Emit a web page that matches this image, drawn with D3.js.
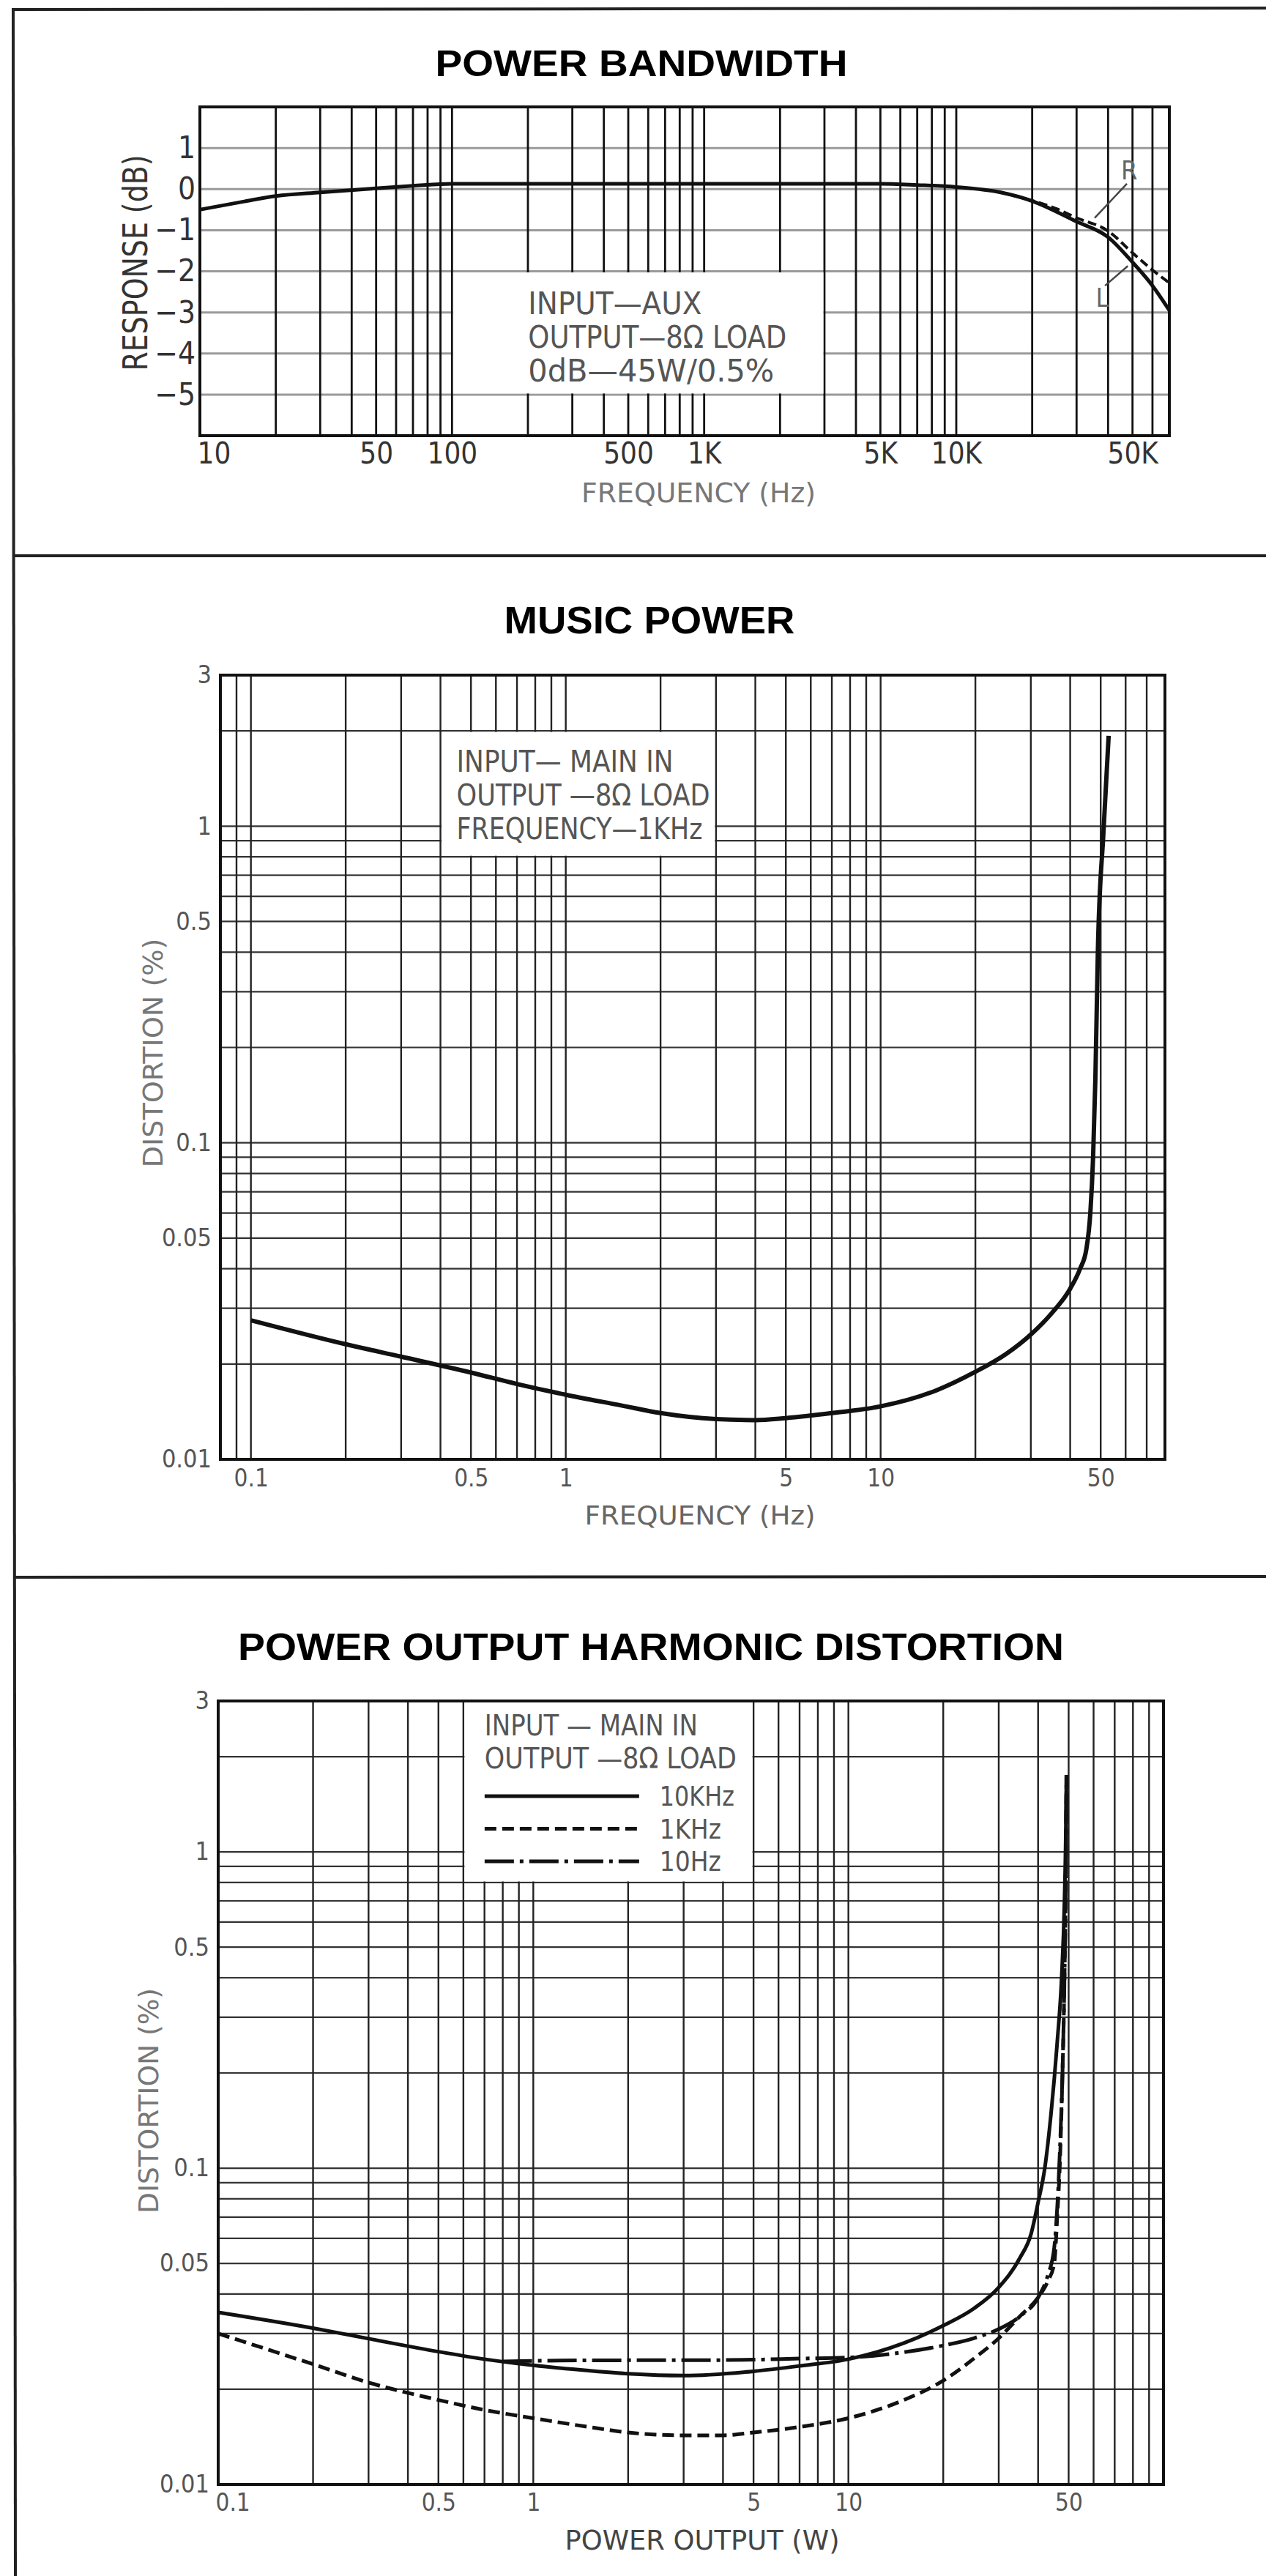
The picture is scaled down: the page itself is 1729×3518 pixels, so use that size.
<!DOCTYPE html>
<html><head><meta charset="utf-8">
<script src="https://cdn.jsdelivr.net/npm/d3@7"></script>
<style>
html,body{margin:0;padding:0;background:#fff;}
svg{display:block;}
text{font-family:"Liberation Sans Narrow","DejaVu Sans Condensed","Liberation Sans",sans-serif;}
.ttl{font-family:"Liberation Sans",Arial,sans-serif;font-weight:bold;}
</style></head><body>
<svg id="c" width="1729" height="3518"></svg>
<script>
// ================= DATA =================
// Chart 1 : POWER BANDWIDTH
const bwFreq = [10,15,20,30,50,70,100,200,500,1000,2000,5000,7000,10000,15000,20000,30000,40000,50000,60000,70000];
const bwL    = [-0.5,-0.3,-0.17,-0.08,0.02,0.08,0.13,0.13,0.13,0.13,0.13,0.13,0.1,0.05,-0.08,-0.29,-0.79,-1.17,-1.78,-2.35,-2.95];
const bwRFreq = [15000,20000,25000,30000,40000,50000,60000,70000];
const bwR     = [-0.08,-0.28,-0.48,-0.7,-1.02,-1.55,-1.97,-2.28];
const bwXTicks = [10,50,100,500,1000,5000,10000,50000];
const bwXTickLabels = ["10","50","100","500","1K","5K","10K","50K"];
const bwYTicks = [1,0,-1,-2,-3,-4,-5];
const bwYTickLabels = ["1","0","−1","−2","−3","−4","−5"];
const bwNote = ["INPUT—AUX","OUTPUT—8Ω LOAD","0dB—45W/0.5%"];
const bwNoteBox = [100,3000,-5,-2];
const bwRLabel = {text:"R", at:[48500,0.47], from:[35400,-0.70], to:[47500,0.13]};
const bwLLabel = {text:"L", at:[38000,-2.64], from:[47900,-1.87], to:[38900,-2.35]};

// Chart 2 : MUSIC POWER
const mpX = [0.1,0.2,0.3,0.5,0.7,1,1.5,2,3,4,5,7,10,15,20,25,30,35,40,43,45,46.4,47.3,48.1,49,51,53];
const mpY = [0.0275,0.0231,0.0211,0.0188,0.0173,0.016,0.0148,0.014,0.0134,0.0133,0.0135,0.014,0.0147,0.0165,0.0189,0.0215,0.0248,0.029,0.0346,0.04,0.046,0.061,0.09,0.16,0.41,0.95,1.93];
const mpXTicks = [0.1,0.5,1,5,10,50];
const mpXTickLabels = ["0.1","0.5","1","5","10","50"];
const distYTicks = [3,1,0.5,0.1,0.05,0.01];
const distYTickLabels = ["3","1","0.5","0.1","0.05","0.01"];
const mpNote = ["INPUT— MAIN IN","OUTPUT —8Ω LOAD","FREQUENCY—1KHz"];
const mpNoteBox = [0.4,3,0.8,2];

// Chart 3 : POWER OUTPUT HARMONIC DISTORTION
const hdX10k = [0.1,0.2,0.3,0.5,0.7,1,1.5,2,3,5,7,10,15,20,25,30,35,38,40,42,44,46,47.5,48.5,49,49.2];
const hdY10k = [0.035,0.0312,0.0289,0.0263,0.0249,0.0238,0.0229,0.0224,0.0221,0.0228,0.0237,0.0249,0.028,0.0318,0.036,0.042,0.052,0.062,0.078,0.1,0.15,0.25,0.4,0.7,1.2,1.75];
const hdX1k = [0.1,0.2,0.3,0.5,0.7,1,1.5,2,3,4,5,7,10,15,20,25,30,35,40,43,45,46,47,47.8,48.5,49,49.2];
const hdY1k = [0.030,0.024,0.021,0.0185,0.0172,0.0162,0.0152,0.0146,0.0143,0.0143,0.0146,0.0152,0.0162,0.0185,0.0213,0.025,0.029,0.034,0.039,0.044,0.05,0.07,0.11,0.2,0.4,0.9,1.75];
const hdX10 = [0.8,1,2,3,5,7,10,15,20,25,30,35,40,43,45,46,47,47.8,48.5,49,49.2];
const hdY10 = [0.0245,0.0246,0.0247,0.0247,0.0248,0.025,0.0252,0.0262,0.0275,0.029,0.031,0.034,0.039,0.046,0.056,0.075,0.12,0.2,0.4,0.9,1.75];
const hdXTicks = [0.1,0.5,1,5,10,50];
const hdXTickLabels = ["0.1","0.5","1","5","10","50"];
const hdNote = ["INPUT — MAIN IN","OUTPUT —8Ω LOAD"];
const hdLegend = ["10KHz","1KHz","10Hz"];
const hdNoteBox = [0.6,5,0.8,3];

// ================= HELPERS =================
const svg = d3.select("#c");
function logGrid(a,b){
  const out=[];
  for(let e=Math.floor(Math.log10(a))-1;e<=Math.ceil(Math.log10(b));e++){
    for(let k=1;k<=9;k++){const v=+(k*Math.pow(10,e)).toPrecision(6); if(v>=a*0.999&&v<=b*1.001) out.push(v);}
  }
  return out;
}
function grid(g,x,y,xv,yv,hs,vs){
  const [x0,x1]=x.range(), [y0,y1]=y.range();
  g.append("g").selectAll("line").data(yv).join("line")
    .attr("x1",x0).attr("x2",x1).attr("y1",d=>y(d)).attr("y2",d=>y(d))
    .attr("stroke",hs.c).attr("stroke-width",hs.w);
  g.append("g").selectAll("line").data(xv).join("line")
    .attr("y1",y0).attr("y2",y1).attr("x1",d=>x(d)).attr("x2",d=>x(d))
    .attr("stroke",vs.c).attr("stroke-width",vs.w);
}
function whiteBox(g,x,y,b){
  g.append("rect").attr("x",x(b[0])+1.5).attr("y",y(b[3])+1.5)
    .attr("width",x(b[1])-x(b[0])-3).attr("height",y(b[2])-y(b[3])-3).attr("fill","#fff");
}
function frame(g,x,y){
  const [x0,x1]=x.range(), [y0,y1]=y.range();
  g.append("rect").attr("x",x0).attr("y",y1).attr("width",x1-x0).attr("height",y0-y1)
    .attr("fill","none").attr("stroke","#111").attr("stroke-width",4);
}
function axes(g,x,y,xt,xl,yt,yl,o){
  const ax=g.append("g").attr("transform",`translate(0,${y.range()[0]})`)
    .call(d3.axisBottom(x).tickValues(xt).tickFormat((d,i)=>xl[i]).tickSize(0).tickPadding(o.xp));
  ax.select(".domain").remove();
  ax.selectAll("text").attr("font-size",o.xfs).attr("fill",o.col);
  if(o.firstStart) ax.select(".tick text").attr("text-anchor","start").attr("x",-4);
  const ay=g.append("g").attr("transform",`translate(${x.range()[0]},0)`)
    .call(d3.axisLeft(y).tickValues(yt).tickFormat((d,i)=>yl[i]).tickSize(0).tickPadding(o.yp));
  ay.select(".domain").remove();
  ay.selectAll("text").attr("font-size",o.yfs).attr("fill",o.col);
  ax.attr("font-family",null); ay.attr("font-family",null);
}
function txt(g,s,xx,yy,o){
  const t=g.append("text").attr("x",xx).attr("y",yy).text(s)
    .attr("font-size",o.fs).attr("fill",o.c||"#444").attr("text-anchor",o.a||"start");
  if(o.len) t.attr("textLength",o.len).attr("lengthAdjust","spacingAndGlyphs");
  if(o.cls) t.attr("class",o.cls);
  if(o.rot) t.attr("transform",`rotate(-90,${xx},${yy})`);
  return t;
}

// ================= PANEL BORDERS =================
const bord = svg.append("g").attr("stroke","#222").attr("stroke-width",4);
bord.append("line").attr("x1",16).attr("x2",1729).attr("y1",13).attr("y2",11);
bord.append("line").attr("x1",18).attr("x2",21).attr("y1",11).attr("y2",3518);
bord.append("line").attr("x1",18).attr("x2",1729).attr("y1",759).attr("y2",759);
bord.append("line").attr("x1",19).attr("x2",1729).attr("y1",2154).attr("y2",2153);

// ================= CHART 1 =================
{
  const g=svg.append("g");
  const x=d3.scaleLog().domain([10,70000]).range([273,1597]);
  const y=d3.scaleLinear().domain([-6,2]).range([595,146]);
  grid(g,x,y,logGrid(10,70000),d3.range(-6,3),{c:"#9a9a9a",w:3},{c:"#111",w:2.8});
  whiteBox(g,x,y,bwNoteBox);
  frame(g,x,y);
  const line=d3.line().x(d=>x(d[0])).y(d=>y(d[1])).curve(d3.curveMonotoneX);
  g.append("path").attr("d",line(d3.zip(bwRFreq,bwR))).attr("fill","none").attr("stroke","#111").attr("stroke-width",4).attr("stroke-dasharray","12,6");
  g.append("path").attr("d",line(d3.zip(bwFreq,bwL))).attr("fill","none").attr("stroke","#111").attr("stroke-width",5);
  [bwRLabel,bwLLabel].forEach(a=>{
    g.append("line").attr("x1",x(a.from[0])).attr("y1",y(a.from[1])).attr("x2",x(a.to[0])).attr("y2",y(a.to[1])).attr("stroke","#444").attr("stroke-width",2.5);
    txt(g,a.text,x(a.at[0]),y(a.at[1])+13,{fs:36,c:"#666",a:"middle"});
  });
  axes(g,x,y,bwXTicks,bwXTickLabels,bwYTicks,bwYTickLabels,{xp:10,yp:6,xfs:40,yfs:42,col:"#333",firstStart:true});
  bwNote.forEach((s,i)=>txt(g,s,x(bwNoteBox[0])+104,y(bwNoteBox[3])+58+i*46,{fs:42,c:"#555",len:[237,353,336][i]}));
  txt(g,"POWER BANDWIDTH",876,104,{fs:50,c:"#000",a:"middle",len:563,cls:"ttl"});
  txt(g,"FREQUENCY (Hz)",954,686,{fs:38,c:"#777",a:"middle",len:320});
  txt(g,"RESPONSE (dB)",201,359,{fs:46,c:"#333",a:"middle",len:295,rot:true});
}

// ================= CHART 2 =================
{
  const g=svg.append("g");
  const x=d3.scaleLog().domain([0.08,80]).range([301,1591]);
  const y=d3.scaleLog().domain([0.01,3]).range([1993,922]);
  grid(g,x,y,logGrid(0.08,80),logGrid(0.01,3),{c:"#333",w:2.2},{c:"#222",w:2.4});
  whiteBox(g,x,y,mpNoteBox);
  frame(g,x,y);
  const line=d3.line().x(d=>x(d[0])).y(d=>y(d[1])).curve(d3.curveMonotoneX);
  g.append("path").attr("d",line(d3.zip(mpX,mpY))).attr("fill","none").attr("stroke","#111").attr("stroke-width",6);
  axes(g,x,y,mpXTicks,mpXTickLabels,distYTicks,distYTickLabels,{xp:14,yp:12,xfs:33,yfs:34,col:"#555"});
  mpNote.forEach((s,i)=>txt(g,s,x(mpNoteBox[0])+22,y(mpNoteBox[3])+56+i*46,{fs:40,c:"#555",len:[296,346,336][i]}));
  txt(g,"MUSIC POWER",887,865,{fs:52,c:"#000",a:"middle",len:397,cls:"ttl"});
  txt(g,"FREQUENCY (Hz)",956,2082,{fs:36,c:"#666",a:"middle",len:315});
  txt(g,"DISTORTION (%)",222,1438,{fs:38,c:"#777",a:"middle",len:313,rot:true});
}

// ================= CHART 3 =================
{
  const g=svg.append("g");
  const x=d3.scaleLog().domain([0.1,100]).range([298,1589]);
  const y=d3.scaleLog().domain([0.01,3]).range([3393,2323]);
  grid(g,x,y,logGrid(0.1,100),logGrid(0.01,3),{c:"#333",w:2.2},{c:"#222",w:2.4});
  whiteBox(g,x,y,hdNoteBox);
  frame(g,x,y);
  const line=d3.line().x(d=>x(d[0])).y(d=>y(d[1])).curve(d3.curveMonotoneX);
  const styles=[{d:"",w:5},{d:"16,8",w:5},{d:"40,8,5,8",w:5}];
  const series=[d3.zip(hdX10k,hdY10k),d3.zip(hdX1k,hdY1k),d3.zip(hdX10,hdY10)];
  series.forEach((s,i)=>g.append("path").attr("d",line(s)).attr("fill","none").attr("stroke","#111")
    .attr("stroke-width",styles[i].w).attr("stroke-dasharray",styles[i].d||null));
  axes(g,x,y,hdXTicks,hdXTickLabels,distYTicks,distYTickLabels,{xp:13,yp:12,xfs:33,yfs:34,col:"#555",firstStart:true});
  const bx=x(hdNoteBox[0]), by=y(hdNoteBox[3]);
  hdNote.forEach((s,i)=>txt(g,s,bx+29,by+47+i*45,{fs:39,c:"#555",len:[291,344][i]}));
  hdLegend.forEach((s,i)=>{
    const ly=by+130+i*44.5;
    g.append("line").attr("x1",bx+29).attr("x2",bx+240).attr("y1",ly).attr("y2",ly)
      .attr("stroke","#111").attr("stroke-width",5).attr("stroke-dasharray",styles[i].d||null);
    txt(g,s,bx+268,ly+13,{fs:38,c:"#555",len:[102,84,84][i]});
  });
  txt(g,"POWER OUTPUT HARMONIC DISTORTION",889,2267,{fs:52,c:"#000",a:"middle",len:1128,cls:"ttl"});
  txt(g,"POWER OUTPUT (W)",959,3482,{fs:38,c:"#444",a:"middle",len:375});
  txt(g,"DISTORTION (%)",216,2869,{fs:38,c:"#777",a:"middle",len:308,rot:true});
}
</script>
</body></html>
